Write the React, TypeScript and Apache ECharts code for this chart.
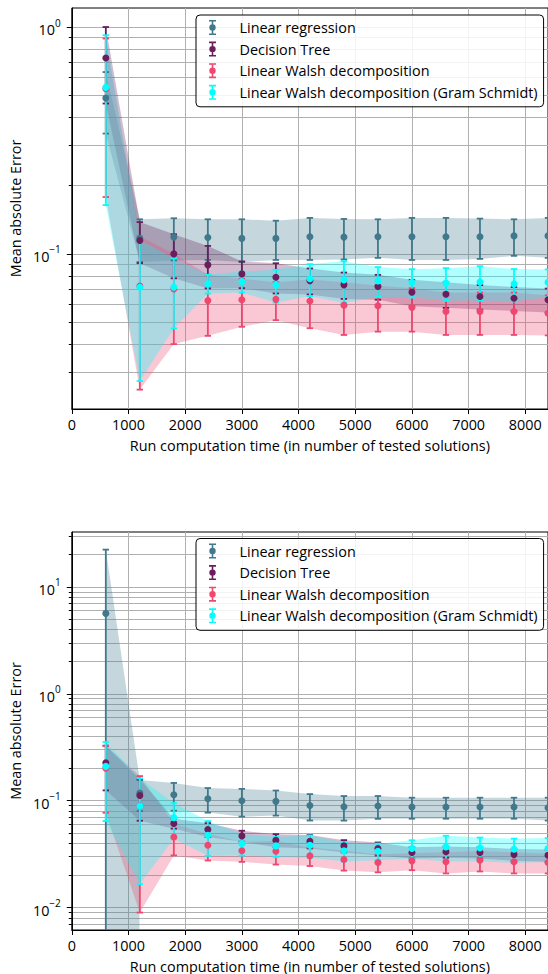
import React, { useEffect, useRef } from 'react';
import * as echarts from 'echarts';

const FONT = '"Open Sans", "Noto Sans", sans-serif';
const FS = 14.4;

const X_VALUES = [600, 1200, 1800, 2400, 3000, 3600, 4200, 4800, 5400, 6000, 6600, 7200, 7800, 8400];
const X_TICKS = [0, 1000, 2000, 3000, 4000, 5000, 6000, 7000, 8000];

const METHODS = [
  'Linear regression',
  'Decision Tree',
  'Linear Walsh decomposition',
  'Linear Walsh decomposition (Gram Schmidt)',
];
const COLORS = ['#40798C', '#6B1D5C', '#EF476F', '#00FFFF'];

// ---- Top panel (mean, std) ----
const TOP_LR_MEAN = [0.486, 0.117, 0.1185, 0.118, 0.117, 0.117, 0.119, 0.1185, 0.119, 0.119, 0.119, 0.119, 0.12, 0.12];
const TOP_LR_STD = [0.147, 0.025, 0.025, 0.024, 0.025, 0.023, 0.025, 0.024, 0.023, 0.025, 0.025, 0.024, 0.022, 0.024];
const TOP_DT_MEAN = [0.73, 0.1145, 0.1, 0.0894, 0.0816, 0.0789, 0.0762, 0.073, 0.0718, 0.0678, 0.0664, 0.0648, 0.0637, 0.0627];
const TOP_DT_STD = [0.27, 0.0235, 0.022, 0.019, 0.011, 0.012, 0.01, 0.0097, 0.009, 0.009, 0.0086, 0.008, 0.0077, 0.0076];
const TOP_LW_MEAN = [0.534, 0.0722, 0.07, 0.0622, 0.0627, 0.063, 0.062, 0.0594, 0.059, 0.058, 0.0557, 0.0557, 0.0557, 0.0547];
const TOP_LW_STD = [0.356, 0.047, 0.03, 0.0187, 0.015, 0.012, 0.015, 0.0155, 0.0136, 0.0126, 0.0118, 0.0118, 0.0118, 0.011];
const TOP_GS_MEAN = [0.542, 0.0713, 0.0713, 0.0738, 0.0755, 0.073, 0.0776, 0.0768, 0.076, 0.0749, 0.0743, 0.0752, 0.0737, 0.0749];
const TOP_GS_STD = [0.378, 0.0438, 0.0244, 0.007, 0.008, 0.012, 0.0125, 0.016, 0.0114, 0.0107, 0.0122, 0.013, 0.012, 0.0105];

// ---- Bottom panel (mean, std) ----
const BOT_LR_MEAN = [5.65, 0.118, 0.1137, 0.1044, 0.1, 0.0986, 0.0903, 0.0879, 0.0892, 0.0873, 0.0873, 0.0873, 0.0873, 0.086];
const BOT_LR_STD = [16.65, 0.038, 0.033, 0.027, 0.029, 0.026, 0.025, 0.0227, 0.0215, 0.0194, 0.0194, 0.0194, 0.0194, 0.0207];
const BOT_DT_MEAN = [0.226, 0.112, 0.0614, 0.0537, 0.0469, 0.0427, 0.0418, 0.0378, 0.0357, 0.0328, 0.0333, 0.0328, 0.0314, 0.0309];
const BOT_DT_STD = [0.101, 0.047, 0.0066, 0.008, 0.0055, 0.006, 0.006, 0.005, 0.005, 0.004, 0.004, 0.004, 0.004, 0.004];
const BOT_LW_MEAN = [0.2017, 0.0895, 0.0458, 0.0383, 0.034, 0.0337, 0.0305, 0.0282, 0.0264, 0.0274, 0.0269, 0.0278, 0.0269, 0.0264];
const BOT_LW_STD = [0.1245, 0.0805, 0.015, 0.0107, 0.0072, 0.0084, 0.006, 0.006, 0.005, 0.005, 0.006, 0.006, 0.006, 0.0055];
const BOT_GS_MEAN = [0.2095, 0.0892, 0.0695, 0.0475, 0.0397, 0.0378, 0.0383, 0.034, 0.0337, 0.0357, 0.037, 0.0362, 0.0352, 0.0357];
const BOT_GS_STD = [0.145, 0.0726, 0.0255, 0.017, 0.009, 0.008, 0.009, 0.007, 0.006, 0.007, 0.01, 0.009, 0.009, 0.009];

// ---- y axis ranges and ticks ----
const TOP_Y_MIN = 0.0207;
const TOP_Y_MAX = 1.213;
const TOP_Y_MAJOR = [0.1, 1];
const TOP_Y_MINOR = [0.03, 0.04, 0.05, 0.06, 0.07, 0.08, 0.09, 0.2, 0.3, 0.4, 0.5, 0.6, 0.7, 0.8, 0.9];
const BOT_Y_MIN = 0.00618;
const BOT_Y_MAX = 32.6;
const BOT_Y_MAJOR = [0.01, 0.1, 1, 10];
const BOT_Y_MINOR = [
  0.007, 0.008, 0.009,
  0.02, 0.03, 0.04, 0.05, 0.06, 0.07, 0.08, 0.09,
  0.2, 0.3, 0.4, 0.5, 0.6, 0.7, 0.8, 0.9,
  2, 3, 4, 5, 6, 7, 8, 9, 20, 30,
];

const PANELS = [
  {
    means: [TOP_LR_MEAN, TOP_DT_MEAN, TOP_LW_MEAN, TOP_GS_MEAN],
    stds: [TOP_LR_STD, TOP_DT_STD, TOP_LW_STD, TOP_GS_STD],
    yMin: TOP_Y_MIN, yMax: TOP_Y_MAX, major: TOP_Y_MAJOR, minor: TOP_Y_MINOR,
  },
  {
    means: [BOT_LR_MEAN, BOT_DT_MEAN, BOT_LW_MEAN, BOT_GS_MEAN],
    stds: [BOT_LR_STD, BOT_DT_STD, BOT_LW_STD, BOT_GS_STD],
    yMin: BOT_Y_MIN, yMax: BOT_Y_MAX, major: BOT_Y_MAJOR, minor: BOT_Y_MINOR,
  },
];

const TINY = 1e-100;

function rgba(hex: string, a: number) {
  const r = parseInt(hex.slice(1, 3), 16);
  const g = parseInt(hex.slice(3, 5), 16);
  const b = parseInt(hex.slice(5, 7), 16);
  return `rgba(${r},${g},${b},${a})`;
}

const ERR_ICON =
  'path://M0,0h7v1.6h-7z M2.7,0h1.6v15h-1.6z M0,13.4h7v1.6h-7z M0.3,7.5a3.2,3.2 0 1,1 6.4,0a3.2,3.2 0 1,1 -6.4,0z';

function expLabel(v: number) {
  const e = Math.round(Math.log10(v));
  const s = e < 0 ? '\u2212' + String(-e) : String(e);
  return `{b|10}{s|${s}}`;
}

function buildOption() {
  const grids = [
    { left: 70, top: 8, right: 0, height: 401 },
    { left: 70, top: 532, right: 0, height: 400 },
  ].map((g) => ({ ...g, show: true, borderColor: '#000', borderWidth: 1, backgroundColor: 'transparent' }));

  const xAxes = [0, 1].map((p) => ({
    type: 'value',
    gridIndex: p,
    min: 0,
    max: 8400,
    interval: 1000,
    name: 'Run computation time (in number of tested solutions)',
    nameLocation: 'middle',
    nameGap: 29,
    nameTextStyle: { fontFamily: FONT, fontSize: FS, color: '#000' },
    axisLine: { show: true, lineStyle: { color: '#000', width: 1 } },
    axisTick: { show: true, length: 5, lineStyle: { color: '#000', width: 1 } },
    axisLabel: {
      fontFamily: FONT, fontSize: FS, color: '#000', margin: 8,
      showMaxLabel: false,
      formatter: (v: number) => (X_TICKS.indexOf(v) >= 0 ? String(v) : ''),
    },
    splitLine: { show: true, lineStyle: { color: '#b0b0b0', width: 1 } },
  }));

  const yAxes: any[] = [];
  PANELS.forEach((panel, p) => {
    const all = [...panel.major, ...panel.minor].sort((a, b) => a - b);
    yAxes.push({
      type: 'log',
      logBase: 10,
      gridIndex: p,
      position: 'left',
      min: panel.yMin,
      max: panel.yMax,
      name: 'Mean absolute Error',
      nameLocation: 'middle',
      nameGap: 47,
      nameTextStyle: { fontFamily: FONT, fontSize: FS, color: '#000' },
      axisLine: { show: true, lineStyle: { color: '#000', width: 1 } },
      axisTick: { show: true, length: 3, customValues: all, lineStyle: { color: '#000', width: 1 } },
      axisLabel: {
        customValues: panel.major,
        margin: 11,
        formatter: (v: number) => expLabel(v),
        rich: {
          b: { fontFamily: FONT, fontSize: FS, color: '#000', lineHeight: 19, verticalAlign: 'bottom' },
          s: { fontFamily: FONT, fontSize: 10, color: '#000', lineHeight: 8, verticalAlign: 'top' },
        },
      },
      splitLine: { show: true, lineStyle: { color: '#b0b0b0', width: 1 } },
    });
    yAxes.push({
      type: 'log',
      logBase: 10,
      gridIndex: p,
      position: 'left',
      min: panel.yMin,
      max: panel.yMax,
      axisLine: { show: false },
      axisLabel: { show: false },
      splitLine: { show: false },
      axisTick: { show: true, length: 5, customValues: panel.major, lineStyle: { color: '#000', width: 1 } },
    });
  });

  const series: any[] = [];
  PANELS.forEach((panel, p) => {
    const yIdx = p * 2;
    // bands
    METHODS.forEach((name, m) => {
      const mean = panel.means[m];
      const std = panel.stds[m];
      const lo = mean.map((v, i) => v - std[i]);
      const hi = mean.map((v, i) => v + std[i]);
      series.push({
        type: 'custom',
        name: 'band-' + m,
        xAxisIndex: p,
        yAxisIndex: yIdx,
        clip: true,
        silent: true,
        z: 1,
        data: X_VALUES.map((x, i) => [x, mean[i]]),
        renderItem: (params: any, api: any) => {
          if (params.dataIndex !== 0) return null;
          const pts: number[][] = [];
          for (let i = 0; i < X_VALUES.length; i++) pts.push(api.coord([X_VALUES[i], hi[i]]));
          for (let i = X_VALUES.length - 1; i >= 0; i--) pts.push(api.coord([X_VALUES[i], Math.max(lo[i], TINY)]));
          return { type: 'polygon', shape: { points: pts }, style: { fill: rgba(COLORS[m], 0.3), stroke: 'none' } };
        },
      });
    });
    // error bars
    METHODS.forEach((name, m) => {
      const mean = panel.means[m];
      const std = panel.stds[m];
      series.push({
        type: 'custom',
        name,
        xAxisIndex: p,
        yAxisIndex: yIdx,
        clip: true,
        silent: true,
        z: 2,
        itemStyle: { color: COLORS[m] },
        data: X_VALUES.map((x, i) => [x, mean[i], mean[i] - std[i], mean[i] + std[i]]),
        renderItem: (params: any, api: any) => {
          const x = api.value(0);
          const lo = api.value(2);
          const hi = api.value(3);
          const top = api.coord([x, hi]);
          const bot = api.coord([x, Math.max(lo, TINY)]);
          const st = { stroke: COLORS[m], lineWidth: 1.8 };
          const children: any[] = [
            { type: 'line', shape: { x1: top[0], y1: top[1], x2: bot[0], y2: bot[1] }, style: st },
            { type: 'line', shape: { x1: top[0] - 3.2, y1: top[1], x2: top[0] + 3.2, y2: top[1] }, style: st },
          ];
          if (lo > 0) {
            children.push({ type: 'line', shape: { x1: bot[0] - 3.2, y1: bot[1], x2: bot[0] + 3.2, y2: bot[1] }, style: st });
          }
          return { type: 'group', children };
        },
      });
    });
    // markers
    METHODS.forEach((name, m) => {
      series.push({
        type: 'scatter',
        name,
        xAxisIndex: p,
        yAxisIndex: yIdx,
        silent: true,
        z: 3,
        symbol: 'circle',
        symbolSize: 7,
        itemStyle: { color: COLORS[m], opacity: 1 },
        data: X_VALUES.map((x, i) => [x, panel.means[m][i]]),
      });
    });
  });

  const legends = [15, 538.5].map((top) => ({
    orient: 'vertical',
    left: 196,
    top,
    itemWidth: 14,
    itemHeight: 15,
    itemGap: 6.6,
    padding: [5, 6, 7, 13],
    borderColor: '#000',
    borderWidth: 1,
    borderRadius: 4,
    backgroundColor: 'rgba(255,255,255,0.85)',
    selectedMode: false,
    textStyle: { fontFamily: FONT, fontSize: FS, color: '#000', padding: [0, 0, 0, 15] },
    data: METHODS.map((name, m) => ({ name, icon: ERR_ICON, itemStyle: { color: COLORS[m] } })),
  }));

  return {
    animation: false,
    backgroundColor: '#fff',
    textStyle: { fontFamily: FONT },
    grid: grids,
    xAxis: xAxes,
    yAxis: yAxes,
    legend: legends,
    series,
  };
}

export default function App() {
  const ref = useRef<HTMLDivElement>(null);
  useEffect(() => {
    if (!ref.current) return;
    const chart = echarts.init(ref.current, null, { renderer: 'svg' });
    chart.setOption(buildOption() as any);
    return () => chart.dispose();
  }, []);
  return (
    <div
      ref={ref}
      style={{ position: 'absolute', left: 0, top: 0, width: 548, height: 974, background: '#fff' }}
    />
  );
}
